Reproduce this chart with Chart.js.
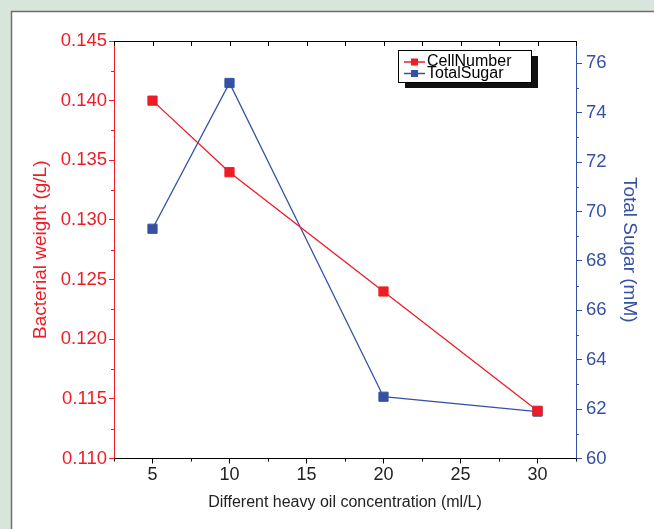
<!DOCTYPE html>
<html>
<head>
<meta charset="utf-8">
<script src="https://cdn.jsdelivr.net/npm/chart.js@4.4.0/dist/chart.umd.min.js"></script>
<style>
  html, body { margin: 0; padding: 0; background: #d8e5da; }
  #myChart { display: block; }
</style>
</head>
<body>
<canvas id="myChart" width="654" height="529"></canvas>
<script>
const concentrations = [5, 10, 20, 30];
const cellNumber = [0.140, 0.134, 0.124, 0.114];
const totalSugar = [69.3, 75.2, 62.5, 61.9];

const xTicks = [5, 10, 15, 20, 25, 30];
const xMinorTicks = [2.5, 7.5, 12.5, 17.5, 22.5, 27.5, 32.5];
const weightMinorTicks = [0.1125, 0.1175, 0.1225, 0.1275, 0.1325, 0.1375, 0.1425];
const sugarMinorTicks = [61, 63, 65, 67, 69, 71, 73, 75];

const red = "#ee1c25";
const blue = "#3551a4";
const font = "'Liberation Sans', Arial, sans-serif";

const toPoints = (values) =>
  concentrations.map((c, i) => ({ x: c, y: values[i] }));

// grey page + white panel behind the chart
const panel = {
  id: "panel",
  beforeDraw(chart) {
    const c = chart.ctx;
    c.save();
    c.fillStyle = "#d8e5da";
    c.fillRect(0, 0, chart.width, chart.height);
    c.fillStyle = "#ffffff";
    c.fillRect(11, 11, chart.width - 11, chart.height - 11);
    c.strokeStyle = "#6e6e6e";
    c.lineWidth = 1.5;
    c.beginPath();
    c.moveTo(11.5, chart.height);
    c.lineTo(11.5, 11.5);
    c.lineTo(chart.width, 11.5);
    c.stroke();
    c.restore();
  },
};

// top frame line and the minor ticks, Origin style
const frame = {
  id: "frame",
  afterDraw(chart) {
    const c = chart.ctx;
    const a = chart.chartArea;
    const x = chart.scales.x;
    const y = chart.scales.y;
    const y1 = chart.scales.y1;
    c.save();
    c.lineWidth = 1;
    c.strokeStyle = "#000";
    c.beginPath();
    c.moveTo(a.left, a.top + 0.5);
    c.lineTo(a.right, a.top + 0.5);
    xMinorTicks.concat(xTicks).forEach((v) => {
      const px = Math.round(x.getPixelForValue(v)) + 0.5;
      c.moveTo(px, a.top);
      c.lineTo(px, a.top + 5);
    });
    xMinorTicks.forEach((v) => {
      const px = Math.round(x.getPixelForValue(v)) + 0.5;
      c.moveTo(px, a.bottom);
      c.lineTo(px, a.bottom + 3);
    });
    c.stroke();

    c.strokeStyle = red;
    c.beginPath();
    weightMinorTicks.forEach((v) => {
      const py = Math.round(y.getPixelForValue(v)) + 0.5;
      c.moveTo(a.left, py);
      c.lineTo(a.left - 3, py);
    });
    c.stroke();

    c.strokeStyle = blue;
    c.beginPath();
    sugarMinorTicks.forEach((v) => {
      const py = Math.round(y1.getPixelForValue(v)) + 0.5;
      c.moveTo(a.right, py);
      c.lineTo(a.right + 3, py);
    });
    c.stroke();
    c.restore();
  },
};

// boxed legend with a drop shadow
const boxLegend = {
  id: "boxLegend",
  afterDraw(chart) {
    const c = chart.ctx;
    const bx = 398, by = 50, bw = 133, bh = 32;
    c.save();
    c.fillStyle = "#111";
    c.fillRect(bx + 7, by + 6, bw, bh);
    c.fillStyle = "#fff";
    c.fillRect(bx, by, bw, bh);
    c.strokeStyle = "#000";
    c.lineWidth = 1;
    c.strokeRect(bx + 0.5, by + 0.5, bw, bh);
    c.font = "16px " + font;
    c.textBaseline = "middle";
    chart.data.datasets.forEach((ds, i) => {
      const ly = by + 12 + i * 11.5;
      c.strokeStyle = ds.borderColor;
      c.lineWidth = 1.5;
      c.beginPath();
      c.moveTo(bx + 6, ly);
      c.lineTo(bx + 27, ly);
      c.stroke();
      c.fillStyle = ds.backgroundColor;
      c.fillRect(bx + 13, ly - 3.5, 7, 7);
      c.fillStyle = "#000";
      c.fillText(ds.label, bx + 29, ly);
    });
    c.restore();
  },
};

const ctx = document.querySelector("#myChart");
const myChart = new Chart(ctx, {
  type: "line",
  data: {
    datasets: [
      {
        label: "CellNumber",
        data: toPoints(cellNumber),
        yAxisID: "y",
        borderColor: red,
        backgroundColor: red,
        borderWidth: 1.3,
        pointStyle: "rect",
        pointRadius: 6.5,
        pointBorderWidth: 1,
      },
      {
        label: "TotalSugar",
        data: toPoints(totalSugar),
        yAxisID: "y1",
        borderColor: blue,
        backgroundColor: blue,
        borderWidth: 1.3,
        pointStyle: "rect",
        pointRadius: 6.5,
        pointBorderWidth: 1,
      },
    ],
  },
  options: {
    responsive: false,
    animation: false,
    layout: { padding: { top: 41, left: 0, right: 0, bottom: 0 } },
    plugins: {
      legend: { display: false },
      tooltip: { enabled: false },
    },
    scales: {
      x: {
        type: "linear",
        min: 2.5,
        max: 32.5,
        afterFit: (s) => { s.height = 70.5; },
        afterBuildTicks: (s) => { s.ticks = xTicks.map((v) => ({ value: v })); },
        border: { color: "#000", width: 1 },
        grid: { drawOnChartArea: false, tickLength: 5, tickColor: "#000" },
        ticks: { color: "#222", padding: 1, font: { family: font, size: 18 } },
        title: {
          display: true,
          text: "Different heavy oil concentration (ml/L)",
          color: "#222",
          padding: { top: 0, bottom: 17 },
          font: { family: font, size: 16 },
        },
      },
      y: {
        position: "left",
        min: 0.11,
        max: 0.145,
        afterFit: (s) => { s.width = 114; },
        ticks: {
          stepSize: 0.005,
          includeBounds: false,
          color: red,
          padding: 2,
          font: { family: font, size: 18.5 },
          callback: (v) => v.toFixed(3),
        },
        border: { color: red, width: 1 },
        grid: { drawOnChartArea: false, tickLength: 5, tickColor: red },
        title: {
          display: true,
          text: "Bacterial weight (g/L)",
          color: red,
          padding: { top: 29, bottom: 0 },
          font: { family: font, size: 19 },
        },
      },
      y1: {
        position: "right",
        min: 60,
        max: 76.9,
        afterFit: (s) => { s.width = 78; },
        ticks: {
          stepSize: 2,
          includeBounds: false,
          color: blue,
          padding: 4,
          font: { family: font, size: 18.5 },
        },
        border: { color: blue, width: 1 },
        grid: { drawOnChartArea: false, tickLength: 6, tickColor: blue },
        title: {
          display: true,
          text: "Total Sugar (mM)",
          color: blue,
          padding: { top: 13, bottom: 0 },
          font: { family: font, size: 19 },
        },
      },
    },
  },
  plugins: [panel, frame, boxLegend],
});
</script>
</body>
</html>
